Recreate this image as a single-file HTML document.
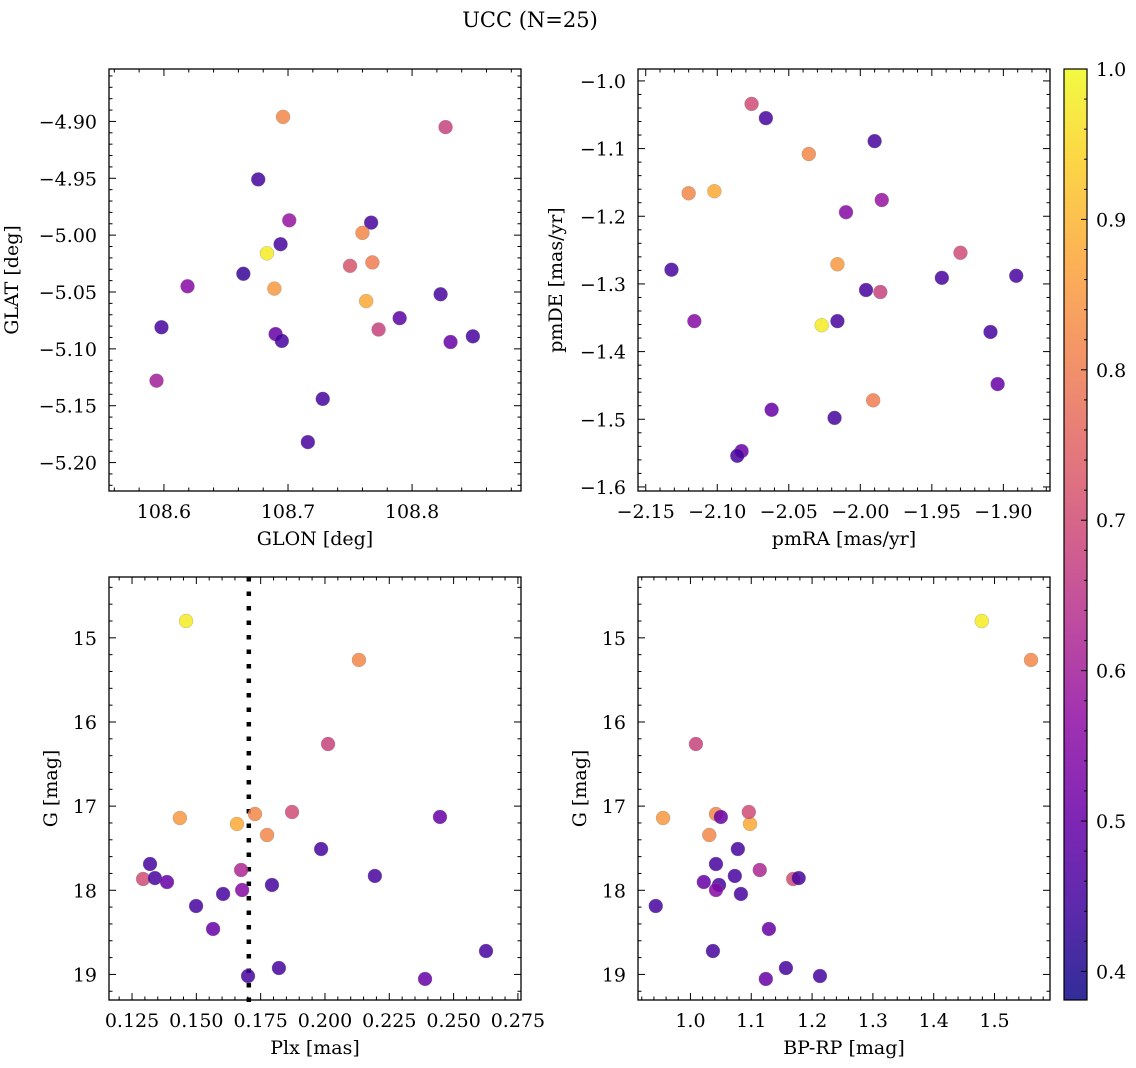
<!DOCTYPE html>
<html><head><meta charset="utf-8">
<style>
html,body{margin:0;padding:0;background:#fff;}
svg{display:block;font-family:"DejaVu Serif","Liberation Serif",serif;}
</style></head>
<body>
<svg id="fig" width="1136" height="1068" viewBox="0 0 1136 1068" xmlns="http://www.w3.org/2000/svg">
<text x="530" y="27" font-size="21" text-anchor="middle">UCC (N=25)</text>
</svg>
<script>
// Panel 1: GLON vs GLAT
const glon = [108.696,108.827,108.676,108.701,108.767,108.683,108.694,108.664,108.760,108.750,108.768,108.619,108.689,108.763,108.823,108.598,108.690,108.695,108.773,108.790,108.831,108.849,108.594,108.728,108.716];
const glat = [-4.896,-4.905,-4.951,-4.987,-4.989,-5.016,-5.008,-5.034,-4.998,-5.027,-5.024,-5.045,-5.047,-5.058,-5.052,-5.081,-5.087,-5.093,-5.083,-5.073,-5.094,-5.089,-5.128,-5.144,-5.182];
const prob1 = [0.82,0.68,0.45,0.58,0.45,0.98,0.45,0.43,0.82,0.72,0.80,0.55,0.85,0.88,0.45,0.45,0.50,0.45,0.68,0.48,0.50,0.45,0.60,0.45,0.45];
// Panel 2: pmRA vs pmDE
const pmra = [-2.076,-2.066,-2.036,-1.990,-2.120,-2.102,-2.010,-1.985,-2.016,-2.132,-1.930,-1.996,-1.943,-1.891,-1.986,-2.116,-2.016,-2.027,-1.909,-1.904,-2.062,-2.018,-1.991,-2.083,-2.086];
const pmde = [-1.034,-1.055,-1.108,-1.089,-1.166,-1.163,-1.194,-1.176,-1.271,-1.279,-1.254,-1.309,-1.291,-1.288,-1.312,-1.355,-1.355,-1.361,-1.371,-1.448,-1.486,-1.498,-1.472,-1.547,-1.554];
const prob2 = [0.70,0.45,0.82,0.45,0.82,0.88,0.55,0.58,0.85,0.45,0.70,0.45,0.45,0.45,0.68,0.55,0.45,0.98,0.45,0.50,0.50,0.45,0.80,0.50,0.45];
// Panels 3 & 4: Plx, BP-RP vs G
const plx = [0.1460,0.2132,0.2012,0.1436,0.1658,0.1728,0.1872,0.2447,0.1775,0.1985,0.1320,0.1293,0.1339,0.1386,0.1674,0.2194,0.1794,0.1604,0.1678,0.1499,0.1565,0.2626,0.1821,0.1701,0.2389];
const gmag = [14.800,15.263,16.262,17.141,17.212,17.094,17.070,17.129,17.343,17.510,17.688,17.866,17.855,17.902,17.759,17.830,17.937,18.044,17.997,18.187,18.460,18.722,18.924,19.019,19.054];
const bprp = [1.479,1.560,1.009,0.955,1.098,1.042,1.096,1.050,1.031,1.078,1.042,1.169,1.178,1.022,1.114,1.073,1.047,1.083,1.042,0.943,1.129,1.037,1.157,1.213,1.124];
const prob3 = [0.98,0.82,0.68,0.85,0.88,0.82,0.70,0.50,0.82,0.45,0.45,0.70,0.45,0.50,0.62,0.45,0.45,0.45,0.55,0.45,0.50,0.45,0.45,0.45,0.50];
const plxLine = 0.1704;
const cbTicks = [0.4,0.5,0.6,0.7,0.8,0.9,1.0];
const cMin = 0.381, cMax = 1.0;

const NS = "http://www.w3.org/2000/svg";
const fig = document.getElementById('fig');
function mk(tag, attrs, parent){const e=document.createElementNS(NS,tag);for(const k in attrs)e.setAttribute(k,attrs[k]);(parent||fig).appendChild(e);return e;}

const stops=[[13,8,135],[65,4,157],[106,0,168],[143,13,164],[177,42,144],[204,71,120],[225,100,98],[242,132,75],[252,166,54],[252,206,37],[240,249,33]];
function plasma(t){t=Math.max(0,Math.min(1,t));const f=t*10,i=Math.min(9,Math.floor(f)),r=f-i;const a=stops[i],b=stops[i+1];return `rgb(${Math.round(a[0]+(b[0]-a[0])*r)},${Math.round(a[1]+(b[1]-a[1])*r)},${Math.round(a[2]+(b[2]-a[2])*r)})`;}
function cmap(v){return plasma((v-cMin)/(cMax-cMin));}

function fmt(v,d){let s=v.toFixed(d);if(s.startsWith('-'))s='\u2212'+s.slice(1);return s;}
const FS=19;

function panel(o){
  const g=mk('g',{});
  
  
  const sx=v=>o.x0+(v-o.xmin)/(o.xmax-o.xmin)*(o.x1-o.x0);
  const sy=v=>o.y1-(v-o.ymin)/(o.ymax-o.ymin)*(o.y1-o.y0);
  const clipId=o.name+'-clip';
  const cp=mk('clipPath',{id:clipId},g);mk('rect',{x:o.x0,y:o.y0,width:o.x1-o.x0,height:o.y1-o.y0},cp);
  if(o.vline!==undefined){
    const l=mk('line',{x1:sx(o.vline),x2:sx(o.vline),y1:o.y0,y2:o.y1+8,stroke:'#000','stroke-width':4.5,'stroke-dasharray':'4.5 10'},g);
    
    
  }
  const pts=mk('g',{'clip-path':`url(#${clipId})`},g);
  for(let i=0;i<o.xs.length;i++){
    const c=mk('circle',{cx:sx(o.xs[i]),cy:sy(o.ys[i]),r:7,fill:cmap(o.cs[i]),'fill-opacity':0.85,stroke:'#888','stroke-width':0.4,'stroke-opacity':0.7},pts);
    
    
  }
  const tk=mk('g',{stroke:'#000','stroke-width':1},g);
  const eps=1e-9;
  const xlo=Math.min(o.xmin,o.xmax),xhi=Math.max(o.xmin,o.xmax);
  const ylo=Math.min(o.ymin,o.ymax),yhi=Math.max(o.ymin,o.ymax);
  const nx0=Math.ceil(xlo/o.xminor-eps),nx1=Math.floor(xhi/o.xminor+eps);
  for(let n=nx0;n<=nx1;n++){const v=n*o.xminor;
    const isMaj=Math.abs(v/o.xmajor-Math.round(v/o.xmajor))<1e-6;const L=isMaj?7:3.5;const x=sx(v);
    mk('line',{x1:x,x2:x,y1:o.y1,y2:o.y1-L},tk);mk('line',{x1:x,x2:x,y1:o.y0,y2:o.y0+L},tk);
    if(isMaj){const t=mk('text',{x:x,y:o.y1+27,'font-size':FS,'text-anchor':'middle',stroke:'none'},g);t.textContent=fmt(v,o.xdec);
      }
  }
  const ny0=Math.ceil(ylo/o.yminor-eps),ny1=Math.floor(yhi/o.yminor+eps);
  for(let n=ny0;n<=ny1;n++){const v=n*o.yminor;
    const isMaj=Math.abs(v/o.ymajor-Math.round(v/o.ymajor))<1e-6;const L=isMaj?7:3.5;const y=sy(v);
    mk('line',{x1:o.x0,x2:o.x0+L,y1:y,y2:y},tk);mk('line',{x1:o.x1,x2:o.x1-L,y1:y,y2:y},tk);
    if(isMaj){const t=mk('text',{x:o.x0-12,y:y+7,'font-size':FS,'text-anchor':'end',stroke:'none'},g);t.textContent=fmt(v,o.ydec);
      }
  }
  const fr=mk('rect',{x:o.x0,y:o.y0,width:o.x1-o.x0,height:o.y1-o.y0,fill:'none',stroke:'#000','stroke-width':1.3},g);
  
  const xl=mk('text',{x:(o.x0+o.x1)/2,y:o.y1+54,'font-size':FS,'text-anchor':'middle'},g);xl.textContent=o.xlabel;
  
  const yc=(o.y0+o.y1)/2, yx=o.x0-o.ylabOff;
  const yl=mk('text',{x:yx,y:yc,'font-size':FS,'text-anchor':'middle',transform:`rotate(-90 ${yx} ${yc})`},g);yl.textContent=o.ylabel;
  
}

panel({name:'glon-glat-panel',x0:109,x1:521,y0:69,y1:491,xmin:108.5557,xmax:108.8878,ymin:-5.225,ymax:-4.8539,
  xmajor:0.1,xminor:0.02,ymajor:0.05,yminor:0.01,xdec:1,ydec:2,xs:glon,ys:glat,cs:prob1,xlabel:'GLON [deg]',ylabel:'GLAT [deg]',ylabOff:91});
panel({name:'pm-panel',x0:638,x1:1050,y0:69,y1:491,xmin:-2.1554,xmax:-1.8674,ymin:-1.606,ymax:-0.9824,
  xmajor:0.05,xminor:0.01,ymajor:0.1,yminor:0.02,xdec:2,ydec:1,xs:pmra,ys:pmde,cs:prob2,xlabel:'pmRA [mas/yr]',ylabel:'pmDE [mas/yr]',ylabOff:76});
panel({name:'plx-g-panel',x0:109,x1:521,y0:577,y1:1000,xmin:0.11605,xmax:0.2762,ymin:19.304,ymax:14.277,
  xmajor:0.025,xminor:0.005,ymajor:1,yminor:0.2,xdec:3,ydec:0,xs:plx,ys:gmag,cs:prob3,xlabel:'Plx [mas]',ylabel:'G [mag]',ylabOff:52,vline:plxLine});
panel({name:'color-g-panel',x0:638,x1:1050,y0:577,y1:1000,xmin:0.9138,xmax:1.5912,ymin:19.304,ymax:14.277,
  xmajor:0.1,xminor:0.02,ymajor:1,yminor:0.2,xdec:1,ydec:0,xs:bprp,ys:gmag,cs:prob3,xlabel:'BP-RP [mag]',ylabel:'G [mag]',ylabOff:52});

const cb=mk('g',{});


const defs=mk('defs',{},cb);
const lg=mk('linearGradient',{id:'cbg',x1:0,y1:1,x2:0,y2:0},defs);
for(let i=0;i<=20;i++){mk('stop',{offset:(i/20),'stop-color':plasma(i/20),'stop-opacity':0.85},lg);}
const cbx0=1064,cbx1=1087,cby0=69,cby1=1000;
mk('rect',{x:cbx0,y:cby0,width:cbx1-cbx0,height:cby1-cby0,fill:'url(#cbg)',stroke:'#000','stroke-width':1.2},cb);
const cy=v=>cby1-(v-cMin)/(cMax-cMin)*(cby1-cby0);
for(let n=20;n<=50;n++){const v=n*0.02;const maj=(n%5===0);const y=cy(v);
  mk('line',{x1:cbx1,x2:cbx1-(maj?6:3),y1:y,y2:y,stroke:'#000','stroke-width':1},cb);}
for(let i=0;i<cbTicks.length;i++){const t=mk('text',{x:cbx1+9,y:cy(cbTicks[i])+7,'font-size':FS},cb);t.textContent=cbTicks[i].toFixed(1);
  
  }
</script>
</body></html>
